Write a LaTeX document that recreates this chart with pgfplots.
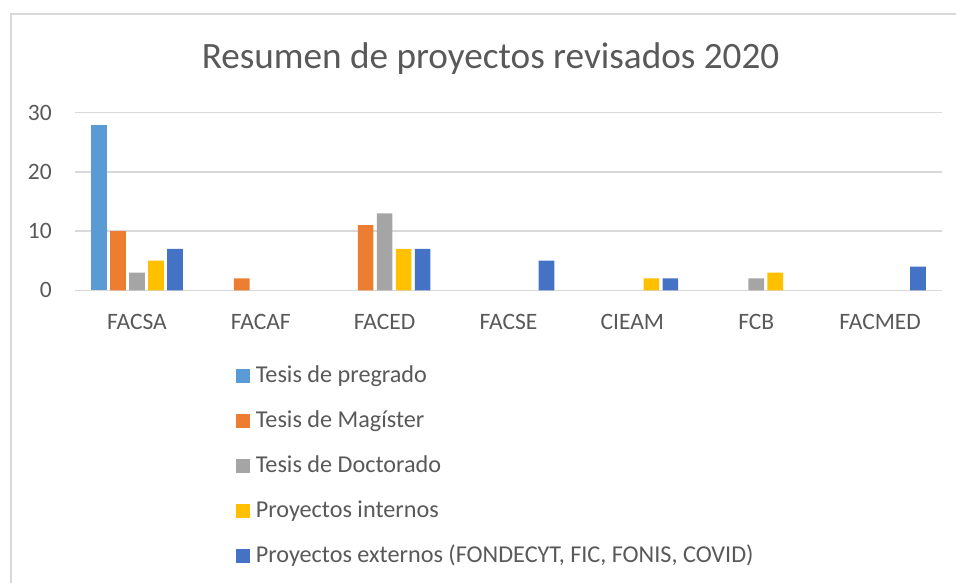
\documentclass[border=0pt]{standalone}
\usepackage{fontspec}
\setmainfont{Carlito}
\usepackage{pgfplots}
\pgfplotsset{compat=1.18}
\definecolor{xlblue}{HTML}{5B9BD5}
\definecolor{xlorange}{HTML}{ED7D31}
\definecolor{xlgray}{HTML}{A5A5A5}
\definecolor{xlyellow}{HTML}{FFC000}
\definecolor{xldblue}{HTML}{4472C4}
\definecolor{txtgray}{HTML}{595959}
\definecolor{gridgray}{HTML}{D9D9D9}
\begin{document}
\begin{tikzpicture}
\useasboundingbox (0,0) rectangle (956pt,583pt);
\fill[white] (0,0) rectangle (956pt,583pt);
% chart frame (cropped on the right and bottom)
\draw[gridgray, line width=1.8pt] (11pt,0pt) -- (11pt,569pt) -- (956pt,569pt);
\node[anchor=base, text=txtgray, font=\fontsize{37.2}{40}\selectfont, inner sep=0pt]
  at (490.5pt,514pt) {Resumen de proyectos revisados 2020};
\begin{axis}[
  at={(75pt,292.7pt)}, anchor=south west,
  scale only axis, width=867pt, height=177.6pt,
  ybar=3.3pt, bar width=15.7pt,
  xmin=-0.5, xmax=6.5, ymin=0, ymax=30,
  xtick={0,...,6},
  xticklabels={FACSA,FACAF,FACED,FACSE,CIEAM,FCB,FACMED},
  ytick={0,10,20,30},
  axis line style={draw=none},
  major tick length=0pt, tick style={draw=none},
  ymajorgrids, grid style={gridgray, line width=1.3pt},
  /pgf/number format/assume math mode=true,
  tick label style={font=\fontsize{23.5}{26}\selectfont, text=txtgray, inner sep=0pt},
  xticklabel style={anchor=north, yshift=-24pt},
  yticklabel style={anchor=east, xshift=-23pt},
  legend style={draw=none, fill=none, inner sep=0pt, outer sep=0pt,
    at={(0.1857,-0.4223)}, anchor=north west, row sep=22pt,
    nodes={inner sep=0pt, text height=17pt, text depth=6pt,
      font=\fontsize{24.2}{26}\selectfont, text=txtgray},
    /tikz/every odd column/.append style={column sep=6pt}},
  legend cell align=left,
  legend image code/.code={\fill[#1] (0pt,-6pt) rectangle (13.8pt,7.8pt);},
]
\addplot[fill=xlblue, draw=none] coordinates {(0,28)};
\addlegendentry{Tesis de pregrado}
\addplot[fill=xlorange, draw=none] coordinates {(0,10) (1,2) (2,11)};
\addlegendentry{Tesis de Magíster}
\addplot[fill=xlgray, draw=none] coordinates {(0,3) (2,13) (5,2)};
\addlegendentry{Tesis de Doctorado}
\addplot[fill=xlyellow, draw=none] coordinates {(0,5) (2,7) (4,2) (5,3)};
\addlegendentry{Proyectos internos}
\addplot[fill=xldblue, draw=none] coordinates {(0,7) (2,7) (3,5) (4,2) (6,4)};
\addlegendentry{Proyectos externos (FONDECYT, FIC, FONIS, COVID)}
\end{axis}
\end{tikzpicture}
\end{document}
